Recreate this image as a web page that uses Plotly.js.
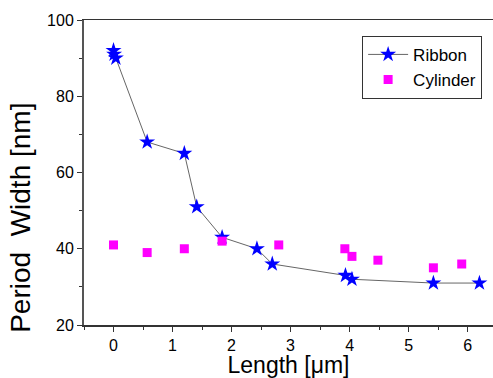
<!DOCTYPE html>
<html>
<head>
<meta charset="utf-8">
<script src="https://cdn.plot.ly/plotly-3.0.1.min.js"></script>
<style>html,body{margin:0;padding:0;background:#fff;overflow:hidden}</style>
</head>
<body>
<div id="chart" style="width:493px;height:378px"></div>
<script>
const ribbonLength = [0, 0.01, 0.04, 0.57, 1.2, 1.41, 1.84, 2.43, 2.69, 3.93, 4.04, 5.42, 6.2];
const ribbonWidth  = [92, 91, 90, 68, 65, 51, 43, 40, 36, 33, 32, 31, 31];
const cylinderLength = [0, 0.57, 1.2, 1.84, 2.8, 3.92, 4.04, 4.48, 5.42, 5.9];
const cylinderWidth  = [41, 39, 40, 42, 41, 40, 38, 37, 35, 36];

const font = "Arial, 'Liberation Sans', sans-serif";

const traces = [
  {
    x: ribbonLength, y: ribbonWidth, name: 'Ribbon', type: 'scatter', mode: 'lines+markers',
    line: {color: '#666666', width: 1},
    marker: {symbol: 'star', size: 12, color: '#0000ff', line: {width: 0}}
  },
  {
    x: cylinderLength, y: cylinderWidth, name: 'Cylinder', type: 'scatter', mode: 'markers',
    marker: {symbol: 'square', size: 9, color: '#ff00ff', line: {width: 0}}
  }
];

const layout = {
  width: 493, height: 378,
  margin: {l: 84, r: 0, t: 20, b: 53},
  paper_bgcolor: '#fff', plot_bgcolor: '#fff',
  font: {family: font, color: '#000', size: 16},
  showlegend: true,
  legend: {
    x: 0.68, y: 0.948, xanchor: 'left', yanchor: 'top',
    bgcolor: '#fff', bordercolor: '#333', borderwidth: 1,
    font: {family: font, size: 17, color: '#000'},
    itemwidth: 40, tracegroupgap: 0
  },
  xaxis: {
    range: [-0.5, 6.43],
    dtick: 1, tick0: 0,
    ticks: 'outside', ticklen: 5, tickwidth: 1, tickcolor: '#333',
    minor: {dtick: 0.5, ticks: 'outside', ticklen: 3, tickcolor: '#333'},
    showline: true, linecolor: '#333', linewidth: 1.5, mirror: true,
    showgrid: false, zeroline: false,
    tickfont: {family: font, size: 16},
    title: {text: 'Length [\u03bcm]', font: {family: font, size: 23}, standoff: 0}
  },
  yaxis: {
    range: [20, 100],
    dtick: 20, tick0: 20,
    ticks: 'outside', ticklen: 5, tickwidth: 1, tickcolor: '#333',
    minor: {dtick: 10, ticks: 'outside', ticklen: 3, tickcolor: '#333'},
    showline: true, linecolor: '#555', linewidth: 2, mirror: false,
    showgrid: false, zeroline: false,
    tickfont: {family: font, size: 16}
  },
  annotations: [
    {
      text: 'Period  Width [nm]', textangle: -90,
      xref: 'paper', yref: 'paper', x: -0.155, y: 0.35,
      xanchor: 'center', yanchor: 'middle', showarrow: false,
      font: {family: font, size: 28, color: '#000'}
    }
  ]
};

Plotly.newPlot('chart', traces, layout, {displayModeBar: false, staticPlot: true});
</script>
</body>
</html>
